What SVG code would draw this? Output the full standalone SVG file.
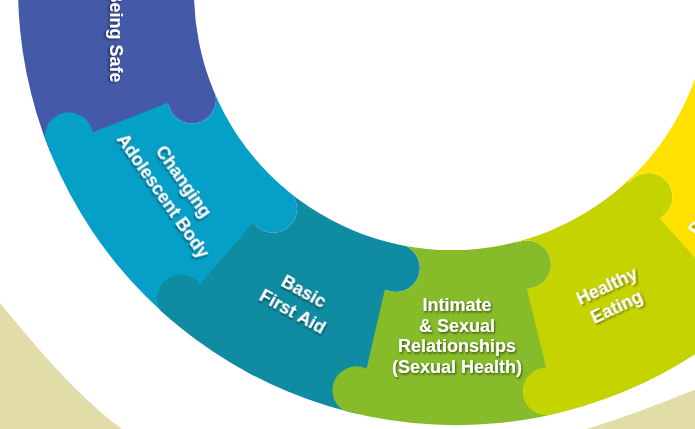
<svg xmlns="http://www.w3.org/2000/svg" width="695" height="429" viewBox="0 0 695 429">
<style>
.lbl{font-family:"Liberation Sans",Arial,sans-serif;font-weight:bold;font-size:18px;fill:#fff;text-anchor:middle;filter:url(#sh)}
.bs{fill:#4459A7}.ch{fill:#059FC7}.bf{fill:#0F8CA2}.in{fill:#86BB2A}.he{fill:#C5D300}.ye{fill:#FFE100}
</style>
<defs>
<filter id="sh" x="-20%" y="-50%" width="140%" height="200%"><feDropShadow dx="1" dy="1.5" stdDeviation="1.3" flood-color="#000" flood-opacity="0.55"/></filter>
<clipPath id="ring"><path clip-rule="evenodd" d="M18,-13 a438,438 0 1 0 876,0 a438,438 0 1 0 -876,0 Z M194,-8 a258,258 0 1 0 516,0 a258,258 0 1 0 -516,0 Z"/></clipPath>
<mask id="m-ch" maskUnits="userSpaceOnUse" x="-300" y="-300" width="1400" height="1100"><rect x="-300" y="-300" width="1400" height="1100" fill="#fff"/><circle cx="192" cy="99.6" r="24" fill="#000"/></mask>
<mask id="m-bf" maskUnits="userSpaceOnUse" x="-300" y="-300" width="1400" height="1100"><rect x="-300" y="-300" width="1400" height="1100" fill="#fff"/><circle cx="273" cy="208.8" r="24" fill="#000"/></mask>
<mask id="m-in" maskUnits="userSpaceOnUse" x="-300" y="-300" width="1400" height="1100"><rect x="-300" y="-300" width="1400" height="1100" fill="#fff"/><circle cx="395.9" cy="268" r="24" fill="#000"/></mask>
<mask id="m-he" maskUnits="userSpaceOnUse" x="-300" y="-300" width="1400" height="1100"><rect x="-300" y="-300" width="1400" height="1100" fill="#fff"/><circle cx="527" cy="264.5" r="24" fill="#000"/></mask>
<mask id="m-ye" maskUnits="userSpaceOnUse" x="-300" y="-300" width="1400" height="1100"><rect x="-300" y="-300" width="1400" height="1100" fill="#fff"/><circle cx="648.4" cy="197" r="24" fill="#000"/></mask>
</defs>
<rect width="695" height="429" fill="#fff"/>
<path id="outer-band" fill="#E2DCA8" d="M0,303 C35,345 75,395 126,432 L575,432 C612,422 652,407 697,389 L697,435 L0,435 Z"/>
<g id="being-safe">
<g clip-path="url(#ring)"><path class="bs" d="M454,-10 L-195.5,251.1 L-203.8,-249.4 Z"/><circle class="bs" cx="192" cy="99.6" r="24"/></g>
<text class="lbl" transform="translate(110,36) rotate(90)">Being Safe</text>
</g>
<g id="changing-adolescent-body">
<g clip-path="url(#ring)"><path class="ch" mask="url(#m-ch)" d="M454,-10 L0.3,523.1 L-197.3,246.6 Z"/><circle class="ch" cx="68.9" cy="136.3" r="24"/><circle class="ch" cx="273" cy="208.8" r="24"/></g>
<text class="lbl" transform="translate(173,189) rotate(55)"><tspan x="0" y="-7">Changing</tspan><tspan x="0" y="18">Adolescent Body</tspan></text>
</g>
<g id="basic-first-aid">
<g clip-path="url(#ring)"><path class="bf" mask="url(#m-bf)" d="M454,-10 L301.3,673.1 L-3.4,519.9 Z"/><circle class="bf" cx="181" cy="298.6" r="24"/><circle class="bf" cx="395.9" cy="268" r="24"/></g>
<text class="lbl" transform="translate(298,302) rotate(29)"><tspan x="0" y="-6">Basic</tspan><tspan x="0" y="17">First Aid</tspan></text>
</g>
<g id="intimate-sexual-relationships">
<g clip-path="url(#ring)"><path class="in" mask="url(#m-in)" d="M454,-10 L624.5,668.9 L296.5,672.1 Z"/><circle class="in" cx="356.4" cy="390.3" r="24"/><circle class="in" cx="527" cy="264.5" r="24"/></g>
<text class="lbl"><tspan x="457" y="311">Intimate</tspan><tspan x="457" y="331.7">&amp; Sexual</tspan><tspan x="457" y="352.4">Relationships</tspan><tspan x="457" y="373.1">(Sexual Health)</tspan></text>
</g>
<g id="healthy-eating">
<g clip-path="url(#ring)"><path class="he" mask="url(#m-he)" d="M454,-10 L926,507 L619.8,670.1 Z"/><circle class="he" cx="546.7" cy="391.4" r="24"/><circle class="he" cx="648.4" cy="197" r="24"/></g>
<text class="lbl" transform="translate(612,297) rotate(-25)"><tspan x="0" y="-6">Healthy</tspan><tspan x="0" y="17">Eating</tspan></text>
</g>
<g id="next-piece">
<g clip-path="url(#ring)"><path class="ye" mask="url(#m-ye)" d="M454,-10 L1111.8,-249.4 L922.4,510.2 Z"/><circle class="ye" cx="725.9" cy="299.5" r="24"/></g>
<text class="lbl" style="text-anchor:start" transform="translate(697,237) rotate(-50)">P</text>
</g>
</svg>
